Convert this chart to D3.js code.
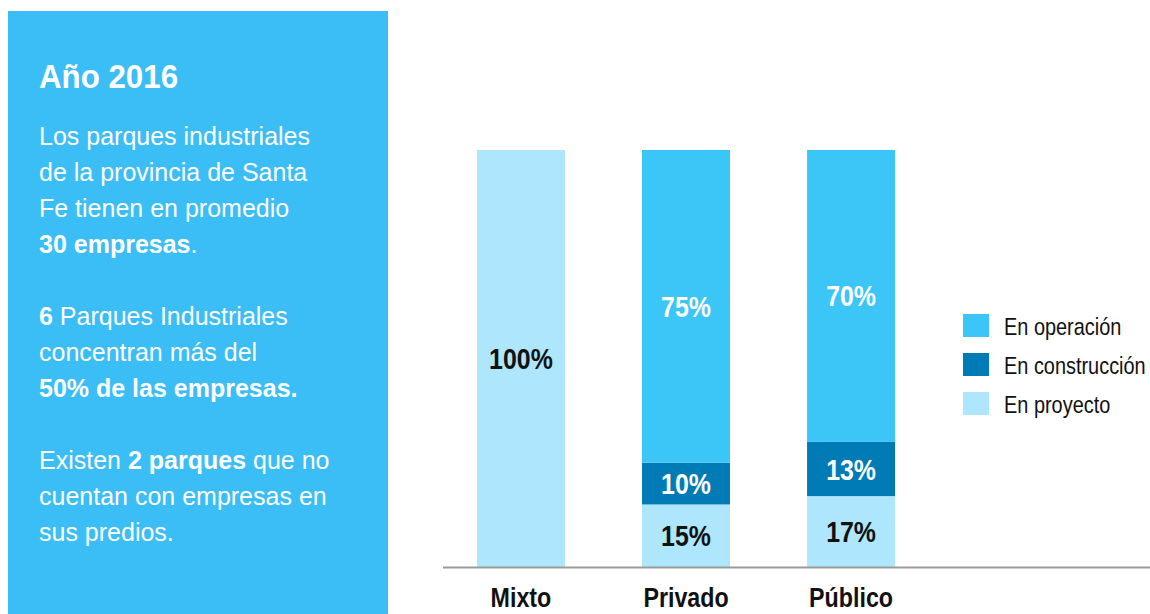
<!DOCTYPE html>
<html>
<head>
<meta charset="utf-8">
<script src="https://cdn.jsdelivr.net/npm/d3@7"></script>
<style>
	body { margin: 0; background: #fff; }
	svg { display: block; font-family: "Liberation Sans", Arial, sans-serif; }
</style>
</head>
<body>
<svg id="chart" width="1150" height="614"></svg>
<script>
// Park types and stacked shares (%)
const categories = ["Mixto", "Privado", "Público"]
const seriesKeys = ["proyecto", "construccion", "operacion"]
const operacion = [0, 75, 70]
const construccion = [0, 10, 13]
const proyecto = [100, 15, 17]
const legendLabels = ["En operación", "En construcción", "En proyecto"]

// Side panel copy, one entry per line (bold runs marked)
const panelLines = [
	[["Los parques industriales", false]],
	[["de la provincia de Santa", false]],
	[["Fe tienen en promedio", false]],
	[["30 empresas", true], [".", false]],
	null,
	[["6", true], [" Parques Industriales", false]],
	[["concentran más del", false]],
	[["50% de las empresas.", true]],
	null,
	[["Existen ", false], ["2 parques", true], [" que no", false]],
	[["cuentan con empresas en", false]],
	[["sus predios.", false]],
]

const colours = {
	operacion: "#3cc5f7",
	construccion: "#007bb6",
	proyecto: "#aee6fd",
	panel: "#3bbdf6",
}
const labelColour = { operacion: "#fff", construccion: "#fff", proyecto: "#111" }
const narrow = 0.83

const svg = d3.select("#chart")

// Left info panel
svg.append("rect")
	.attr("x", 8)
	.attr("y", 11)
	.attr("width", 380)
	.attr("height", 620)
	.attr("fill", colours.panel)

svg.append("text")
	.attr("transform", "translate(39,88) scale(0.92,1)")
	.attr("fill", "#fff")
	.attr("font-size", 34)
	.attr("font-weight", "bold")
	.text("Año 2016")

let panelText = svg.append("g").attr("fill", "#fff").attr("font-size", 25)
panelLines.forEach((line, i) => {
	if (!line) return
	let t = panelText.append("text")
		.attr("x", 39)
		.attr("y", 145 + i * 36)
	line.forEach(([str, bold]) => {
		t.append("tspan")
			.attr("font-weight", bold ? "bold" : "normal")
			.text(str)
	})
})

// Stacked bars
const data = categories.map((c, i) => ({
	category: c,
	operacion: operacion[i],
	construccion: construccion[i],
	proyecto: proyecto[i],
}))

const x = d3.scaleBand()
	.domain(categories)
	.range([438.5, 933.5])
	.paddingInner(0.467)
	.paddingOuter(0.233)

const y = d3.scaleLinear()
	.domain([0, 100])
	.range([567, 150])

const stacked = d3.stack().keys(seriesKeys)(data)

let layers = svg.append("g").attr("class", "layers")
	.selectAll("g.layer")
	.data(stacked)
	.join("g")
	.attr("class", "layer")
	.attr("fill", d => colours[d.key])

layers.selectAll("rect")
	.data(d => d.filter(s => s[1] - s[0] > 0))
	.join("rect")
	.attr("x", d => x(d.data.category))
	.attr("y", d => y(d[1]))
	.attr("width", x.bandwidth())
	.attr("height", d => y(d[0]) - y(d[1]))

// Value labels, centred on each segment
layers.each(function(layer) {
	d3.select(this).selectAll("text")
		.data(layer.filter(s => s[1] - s[0] > 0))
		.join("text")
		.attr("transform", d => {
			let cx = x(d.data.category) + x.bandwidth() / 2
			let cy = (y(d[0]) + y(d[1])) / 2 + 10.5
			return `translate(${cx},${cy}) scale(${narrow},1)`
		})
		.attr("text-anchor", "middle")
		.attr("font-size", 30)
		.attr("font-weight", "bold")
		.attr("fill", labelColour[layer.key])
		.text(d => `${d[1] - d[0]}%`)
})

// Baseline
svg.append("line")
	.attr("x1", 443)
	.attr("x2", 1150)
	.attr("y1", y(0) + 0.5)
	.attr("y2", y(0) + 0.5)
	.attr("stroke", "#9a9a9a")
	.attr("stroke-width", 2)

// Category labels
svg.append("g")
	.selectAll("text")
	.data(categories)
	.join("text")
	.attr("transform", d => `translate(${x(d) + x.bandwidth() / 2},607) scale(${narrow},1)`)
	.attr("text-anchor", "middle")
	.attr("font-size", 28)
	.attr("font-weight", "bold")
	.attr("fill", "#111")
	.text(d => d)

// Legend
const legendKeys = ["operacion", "construccion", "proyecto"]
let legend = svg.append("g")
	.attr("transform", "translate(963,314)")
	.selectAll("g")
	.data(legendKeys)
	.join("g")
	.attr("transform", (d, i) => `translate(0,${i * 39})`)
legend.append("rect")
	.attr("width", 26)
	.attr("height", 23)
	.attr("fill", d => colours[d])
legend.append("text")
	.attr("transform", `translate(41,21) scale(${narrow},1)`)
	.attr("font-size", 24)
	.attr("fill", "#111")
	.text((d, i) => legendLabels[i])
</script>
</body>
</html>
